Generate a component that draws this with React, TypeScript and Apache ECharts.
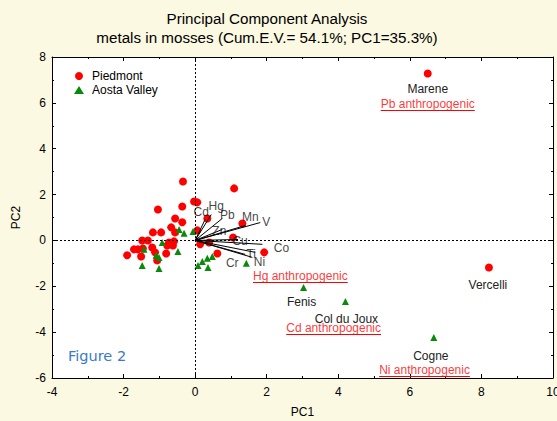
import React, { useEffect, useRef } from "react";
import * as echarts from "echarts";

// ---- data ----
const piedmontPoints: [number, number][] = [
  [-0.34, 2.57], [1.09, 2.27], [-0.03, 1.70], [0.06, 1.66], [-0.36, 1.48],
  [-1.04, 1.35], [-0.56, 0.96], [-0.36, 0.79], [-0.67, 0.57], [-0.56, 0.35],
  [-1.18, 0.35], [-0.95, 0.35], [-1.48, 0.0], [-1.32, 0.0], [-0.73, -0.09],
  [-0.59, -0.04], [-0.78, -0.22], [-0.62, -0.22], [-1.2, -0.31], [-1.71, -0.39],
  [-1.6, -0.39], [-1.46, -0.35], [-1.9, -0.65], [-1.51, -0.7], [-1.12, -0.52],
  [-0.81, -0.57], [-1.06, -0.87], [0.06, 0.44], [0.34, 0.96], [1.32, 0.74],
  [1.06, 0.13], [0.62, -0.57], [1.93, -0.52], [0.39, -0.09], [0.14, -0.17],
];
const piedmontNamedSites: string[] = ["Marene", "Vercelli"];
const piedmontNamedX: number[] = [6.5, 8.21];
const piedmontNamedY: number[] = [7.28, -1.18];

const aostaPoints: [number, number][] = [
  [-0.45, 0.48], [-0.31, 0.31], [-0.06, 0.39], [-0.92, -0.09], [-1.43, -0.39],
  [-1.09, -0.65], [-1.01, -0.74], [-0.48, -0.48], [-1.48, -1.09], [-1.01, -1.22],
  [0.08, -1.09], [0.34, -0.78], [0.48, -0.7], [0.2, -0.92], [0.36, -1.18],
  [1.43, -1.0],
];
const aostaNamedSites: string[] = ["Fenis", "Col du Joux", "Cogne"];
const aostaNamedX: number[] = [3.03, 4.2, 6.67];
const aostaNamedY: number[] = [-2.05, -2.66, -4.23];

const loadingNames: string[] = ["Hg", "Cd", "Pb", "Zn", "Mn", "V", "Cu", "Co", "Ti", "Ni", "Cr"];
const loadingX: number[] = [0.45, 0.28, 0.76, 0.76, 1.4, 1.82, 1.2, 1.88, 1.68, 1.6, 1.4];
const loadingY: number[] = [1.13, 0.92, 0.96, 0.48, 0.65, 0.78, 0.04, -0.17, -0.52, -0.74, -0.61];

const annotationTexts: string[] = ["Pb anthropogenic", "Hg anthropogenic", "Cd anthropogenic", "Ni anthropogenic"];
const annotationX: number[] = [6.5, 2.94, 3.87, 6.41];
const annotationY: number[] = [5.93, -1.57, -3.84, -5.63];

const xTicks = { min: -4, max: 10, interval: 2 };
const yTicks = { min: -6, max: 8, interval: 2 };

// ---- styles (pixel offsets for labels) ----
const loadingLabelOffset: Record<string, [number, number]> = {
  Hg: [5, -9], Cd: [-4, -7], Pb: [5, -3], Zn: [-3, 2], Mn: [5, -9], V: [6, -1],
  Cu: [2, 1], Co: [19, 4], Ti: [-4, 2], Ni: [7, 5], Cr: [-13, 9],
};
const siteLabelOffset: Record<string, [number, number]> = {
  Marene: [0, 15], Vercelli: [-1, 18], Fenis: [-2, 15], "Col du Joux": [1, 18], Cogne: [-3, 19],
};

const FONT = "Liberation Sans, Arial, sans-serif";
const RED = "#ff0000";
const GREEN = "#0a8a0a";
const ANN_SIZE = 12;

export default function App() {
  const ref = useRef<HTMLDivElement>(null);
  useEffect(() => {
    if (!ref.current) return;
    const chart = echarts.init(ref.current, undefined, { renderer: "svg" });

    const siteLabel = (name: string) => ({
      show: true,
      position: "inside" as const,
      offset: siteLabelOffset[name] || [0, 15],
      formatter: name,
      color: "#222",
      fontSize: 12,
      fontFamily: FONT,
    });

    const axisCommon = {
      axisLine: { show: true, onZero: false, lineStyle: { color: "#000", width: 1 } },
      axisTick: { show: true, inside: true, length: 4, lineStyle: { color: "#000" } },
      minorTick: { show: true, splitNumber: 2, length: 2, lineStyle: { color: "#000" } },
      splitLine: { show: false },
    };

    const option: any = {
      animation: false,
      backgroundColor: "#fbf9e2",
      textStyle: { fontFamily: FONT },
      title: {
        text: "Principal Component Analysis\nmetals in mosses (Cum.E.V.= 54.1%; PC1=35.3%)",
        left: 262,
        top: 4,
        textAlign: "center",
        textStyle: { fontSize: 15.2, fontWeight: "normal", color: "#000", lineHeight: 19, fontFamily: FONT },
      },
      legend: {
        left: 69,
        top: 65,
        orient: "vertical",
        itemWidth: 10,
        itemHeight: 8,
        itemGap: 2,
        textStyle: { fontSize: 12, color: "#000", fontFamily: FONT, padding: [0, 0, 0, 3] },
        data: [
          { name: "Piedmont", icon: "circle" },
          { name: "Aosta Valley", icon: "triangle" },
        ],
      },
      grid: {
        left: 52, right: 4, top: 57, bottom: 43,
        backgroundColor: "#fff", show: true, borderWidth: 0,
        outerBoundsMode: "none", containLabel: false,
      },
      xAxis: [
        {
          type: "value", ...xTicks, position: "bottom",
          name: "PC1", nameLocation: "middle", nameGap: 28,
          nameTextStyle: { fontSize: 12, color: "#000", fontFamily: FONT },
          axisLabel: { fontSize: 12, color: "#000", margin: 8, fontFamily: FONT },
          ...axisCommon,
        },
        {
          type: "value", ...xTicks, position: "top",
          axisLabel: { show: false },
          ...axisCommon,
        },
      ],
      yAxis: [
        {
          type: "value", ...yTicks, position: "left",
          name: "PC2", nameLocation: "middle", nameGap: 30,
          nameTextStyle: { fontSize: 12, color: "#000", fontFamily: FONT },
          axisLabel: { fontSize: 12, color: "#000", margin: 6, fontFamily: FONT },
          ...axisCommon,
        },
        {
          type: "value", ...yTicks, position: "right",
          axisLabel: { show: false },
          ...axisCommon,
        },
      ],
      series: [
        {
          name: "zero",
          type: "line",
          data: [],
          markLine: {
            silent: true,
            symbol: "none",
            label: { show: false },
            lineStyle: { color: "#000", type: [2, 2], width: 1 },
            data: [{ xAxis: 0 }, { yAxis: 0 }],
          },
        },
        {
          name: "Piedmont",
          type: "scatter",
          symbol: "circle",
          symbolSize: 8,
          itemStyle: { color: RED, opacity: 1 },
          z: 3,
          data: [
            ...piedmontPoints.map((p) => ({ value: p })),
            ...piedmontNamedSites.map((n, i) => ({
              name: n,
              value: [piedmontNamedX[i], piedmontNamedY[i]],
              label: siteLabel(n),
            })),
          ],
        },
        {
          name: "Aosta Valley",
          type: "scatter",
          symbol: "triangle",
          symbolSize: 7,
          itemStyle: { color: GREEN, opacity: 1 },
          z: 3,
          data: [
            ...aostaPoints.map((p) => ({ value: p })),
            ...aostaNamedSites.map((n, i) => ({
              name: n,
              value: [aostaNamedX[i], aostaNamedY[i]],
              label: siteLabel(n),
            })),
          ],
        },
        {
          name: "loadings",
          type: "lines",
          coordinateSystem: "cartesian2d",
          silent: true,
          z: 4,
          lineStyle: { color: "#000", width: 1, opacity: 1 },
          data: loadingNames.map((n, i) => ({ coords: [[0, 0], [loadingX[i], loadingY[i]]] })),
        },
        {
          name: "loadingLabels",
          type: "scatter",
          symbolSize: 0,
          silent: true,
          z: 5,
          data: loadingNames.map((n, i) => ({
            name: n,
            value: [loadingX[i], loadingY[i]],
            label: {
              show: true,
              position: "inside",
              offset: loadingLabelOffset[n],
              formatter: n,
              color: "#111",
              fontSize: 12,
              fontFamily: FONT,
            },
          })),
        },
        {
          name: "annotations",
          type: "scatter",
          symbolSize: 0,
          silent: true,
          z: 5,
          data: annotationTexts.map((t, i) => ({
            name: t,
            value: [annotationX[i], annotationY[i]],
            label: {
              show: true,
              position: "inside",
              formatter: t,
              color: RED,
              fontSize: ANN_SIZE,
              fontFamily: FONT,
            },
          })),
        },
      ],
      graphic: [
        {
          type: "text",
          left: 68,
          top: 348,
          style: { text: "Figure 2", fill: "#3b7bbf", font: "14.5px 'DejaVu Sans', sans-serif" },
          z: 10,
        },
      ],
    };
    chart.setOption(option);

    // underline the red annotation texts
    const cv = document.createElement("canvas");
    const ctx = cv.getContext("2d");
    if (ctx) {
      ctx.font = `${ANN_SIZE}px ${FONT}`;
      const lines = annotationTexts.map((t, i) => {
        const c = chart.convertToPixel({ xAxisIndex: 0, yAxisIndex: 0 }, [annotationX[i], annotationY[i]]) as number[];
        const w = ctx.measureText(t).width;
        const yy = Math.round(c[1] + ANN_SIZE / 2) + 0.5;
        return {
          type: "line",
          silent: true,
          z: 10,
          shape: { x1: c[0] - w / 2, y1: yy, x2: c[0] + w / 2, y2: yy },
          style: { stroke: RED, lineWidth: 1 },
        };
      });
      chart.setOption({ graphic: [option.graphic[0], ...lines] }, { replaceMerge: ["graphic"] });
    }

    return () => chart.dispose();
  }, []);
  return <div ref={ref} style={{ position: "fixed", left: 0, top: 0, width: 557, height: 421 }} />;
}
